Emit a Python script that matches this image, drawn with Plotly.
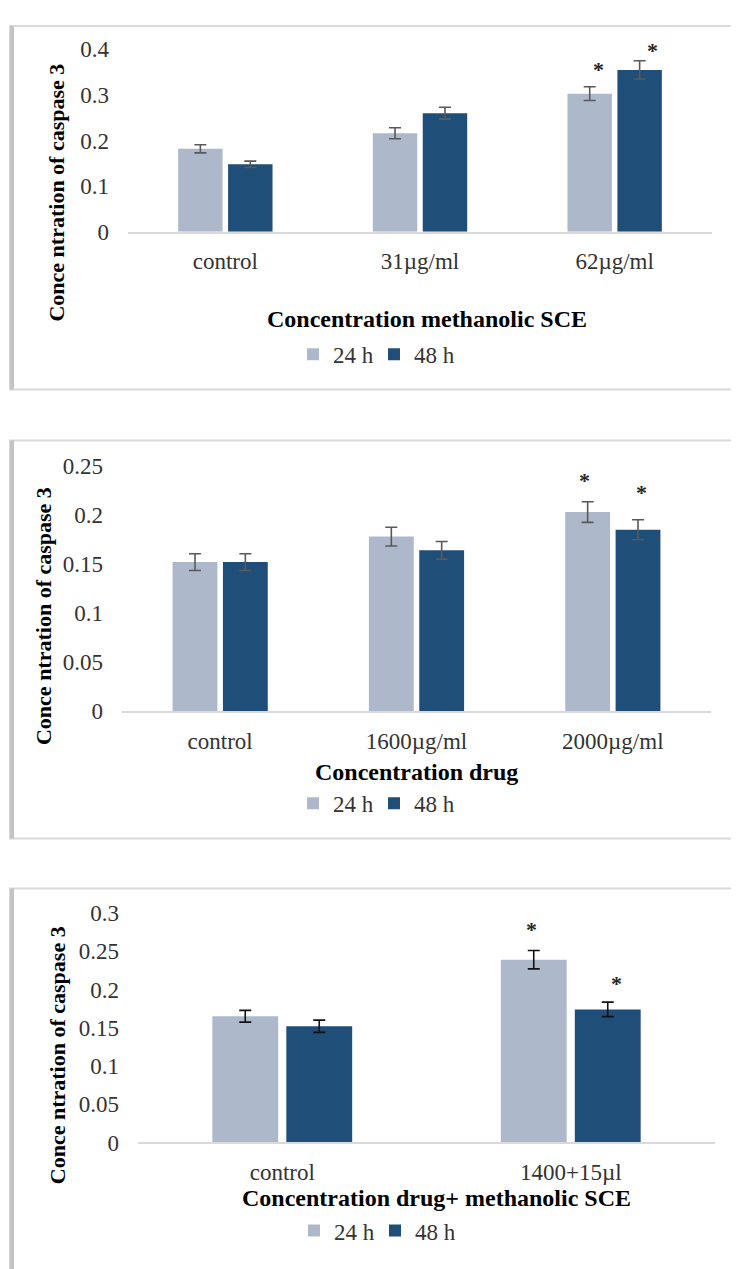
import plotly.graph_objects as go

W, H = 739, 1269
PAGE_MARGIN = 8  # the html body margin shifts the figure by this much

# ---------------- data ----------------
series_names = ["24 h", "48 h"]
series_colors = ["#ADB9CA", "#1F4E79"]

p1_categories = ["control", "31µg/ml", "62µg/ml"]
p1_24h = [0.182, 0.216, 0.303]
p1_48h = [0.148, 0.260, 0.355]
p1_24h_err = [0.009, 0.012, 0.015]
p1_48h_err = [0.007, 0.013, 0.020]
p1_star_24h = [None, None, 0.366]
p1_star_48h = [None, None, 0.409]
p1_ticks = [0, 0.1, 0.2, 0.3, 0.4]
p1_ticktext = ["0", "0.1", "0.2", "0.3", "0.4"]

p2_categories = ["control", "1600µg/ml", "2000µg/ml"]
p2_24h = [0.152, 0.178, 0.203]
p2_48h = [0.152, 0.164, 0.185]
p2_24h_err = [0.0085, 0.0095, 0.0105]
p2_48h_err = [0.0085, 0.009, 0.0102]
p2_star_24h = [None, None, 0.240]
p2_star_48h = [None, None, 0.228]
p2_ticks = [0, 0.05, 0.1, 0.15, 0.2, 0.25]
p2_ticktext = ["0", "0.05", "0.1", "0.15", "0.2", "0.25"]

p3_categories = ["control", "1400+15µl"]
p3_24h = [0.165, 0.239]
p3_48h = [0.152, 0.174]
p3_24h_err = [0.0077, 0.012]
p3_48h_err = [0.008, 0.0095]
p3_star_24h = [None, 0.285]
p3_star_48h = [None, 0.214]
p3_ticks = [0, 0.05, 0.1, 0.15, 0.2, 0.25, 0.3]
p3_ticktext = ["0", "0.05", "0.1", "0.15", "0.2", "0.25", "0.3"]

y_title = "Conce ntration of caspase 3"
x_titles = ["Concentration methanolic SCE", "Concentration drug",
            "Concentration drug+ methanolic SCE"]

# ---------------- helpers (page pixels -> paper) ----------------
def fx(x):
    return (x - PAGE_MARGIN) / W

def fy(y):
    return 1 - (y - PAGE_MARGIN) / H

FONT = "Liberation Serif, Times New Roman, serif"
TICK_COLOR = "#333333"

panels = [
    dict(cats=p1_categories, v=[p1_24h, p1_48h], e=[p1_24h_err, p1_48h_err],
         stars=[p1_star_24h, p1_star_48h], star_px=[598, 652],
         ticks=p1_ticks, ticktext=p1_ticktext, rng=[0, 0.4],
         xd=[128, 712], yd=[38, 224], errc="#595959",
         ytitle=(57, 184), xtitle=(427, 313), legend=(293, 349),
         box=(10, 733, 14, 385)),
    dict(cats=p2_categories, v=[p2_24h, p2_48h], e=[p2_24h_err, p2_48h_err],
         stars=[p2_star_24h, p2_star_48h], star_px=[585, 642],
         ticks=p2_ticks, ticktext=p2_ticktext, rng=[0, 0.25],
         xd=[122, 711], yd=[463, 713], errc="#595959",
         ytitle=(43, 616), xtitle=(416, 775), legend=(293, 807),
         box=(10, 733, 437, 843)),
    dict(cats=p3_categories, v=[p3_24h, p3_48h], e=[p3_24h_err, p3_48h_err],
         stars=[p3_star_24h, p3_star_48h], star_px=[531, 616],
         ticks=p3_ticks, ticktext=p3_ticktext, rng=[0, 0.3],
         xd=[138, 715], yd=[919, 1153], errc="#111111",
         ytitle=(57, 1064), xtitle=(436, 1210), legend=(294, 1243),
         box=(10, 760, 894, 1300)),
]

fig = go.Figure()
shapes = []
annotations = []
layout_extra = {}

for i, p in enumerate(panels):
    n = "" if i == 0 else str(i + 1)
    xa, ya = "x" + n, "y" + n
    leg = "legend" + n
    ncat = len(p["cats"])
    step = (p["xd"][1] - p["xd"][0]) / ncat
    px_per_unit = (p["yd"][1] - p["yd"][0]) / (p["rng"][1] - p["rng"][0])
    for s in range(2):
        fig.add_trace(go.Bar(
            x=p["cats"], y=p["v"][s], name=series_names[s],
            marker=dict(color=series_colors[s], line=dict(width=0)),
            error_y=dict(type="data", array=p["e"][s], visible=True,
                         color=p["errc"], thickness=1.6, width=6),
            xaxis=xa, yaxis=ya, legend=leg, showlegend=True,
        ))
        # significance asterisks
        for k, (c, val) in enumerate(zip(p["cats"], p["stars"][s])):
            if val is None:
                continue
            center = p["xd"][0] + (k + 0.5) * step
            y_anchor_val = min(val, p["rng"][1])
            extra = (val - y_anchor_val) * px_per_unit
            annotations.append(dict(
                x=c, y=y_anchor_val, xref=xa, yref=ya, text="<b>*</b>",
                showarrow=False,
                xshift=p["star_px"][s] - center, yshift=-5 + extra,
                font=dict(family=FONT, size=22, color="#262626"),
                yanchor="middle",
            ))
    layout_extra["xaxis" + n] = dict(
        domain=[fx(p["xd"][0]), fx(p["xd"][1])], anchor=ya,
        showline=True, linecolor="#D9D9D9", linewidth=2,
        showgrid=False, zeroline=False, ticks="",
        tickfont=dict(family=FONT, size=23, color=TICK_COLOR),
        ticklabelstandoff=8,
    )
    layout_extra["yaxis" + n] = dict(
        domain=[fy(p["yd"][1]), fy(p["yd"][0])], anchor=xa,
        range=p["rng"], tickvals=p["ticks"], ticktext=p["ticktext"],
        showline=False, showgrid=False, zeroline=False, ticks="",
        tickfont=dict(family=FONT, size=23, color=TICK_COLOR),
        ticklabelstandoff=18,
    )
    layout_extra[leg] = dict(
        orientation="h", x=fx(p["legend"][0]), y=fy(p["legend"][1]),
        xanchor="left", yanchor="middle", bgcolor="rgba(0,0,0,0)",
        font=dict(family=FONT, size=23, color=TICK_COLOR),
        itemclick=False, entrywidth=36,
    )
    # titles
    annotations.append(dict(
        x=fx(p["ytitle"][0]), y=fy(p["ytitle"][1]), xref="paper", yref="paper",
        text="<b>" + y_title + "</b>", textangle=-90, showarrow=False,
        font=dict(family=FONT, size=22, color="#000000"),
        xanchor="center", yanchor="middle",
    ))
    annotations.append(dict(
        x=fx(p["xtitle"][0]), y=fy(p["xtitle"][1]), xref="paper", yref="paper",
        text="<b>" + x_titles[i] + "</b>", showarrow=False,
        font=dict(family=FONT, size=24, color="#000000"),
        xanchor="center", yanchor="middle",
    ))
    # panel frame
    x0, x1, y0, y1 = p["box"]
    shapes.append(dict(type="rect", xref="paper", yref="paper",
                       x0=fx(x0), x1=fx(x1), y0=fy(y1), y1=fy(y0),
                       line=dict(color="#DADADA", width=2), layer="below"))
    shapes.append(dict(type="line", xref="paper", yref="paper",
                       x0=fx(12), x1=fx(12), y0=fy(y1), y1=fy(y0),
                       line=dict(color="#C4C4C4", width=4), layer="below"))

fig.update_layout(
    width=W, height=H, margin=dict(l=0, r=0, t=0, b=0),
    paper_bgcolor="white", plot_bgcolor="white",
    barmode="group", bargap=0.487, bargroupgap=0.11,
    shapes=shapes, annotations=annotations,
    font=dict(family=FONT),
    **layout_extra,
)

fig.write_html("out.html")
